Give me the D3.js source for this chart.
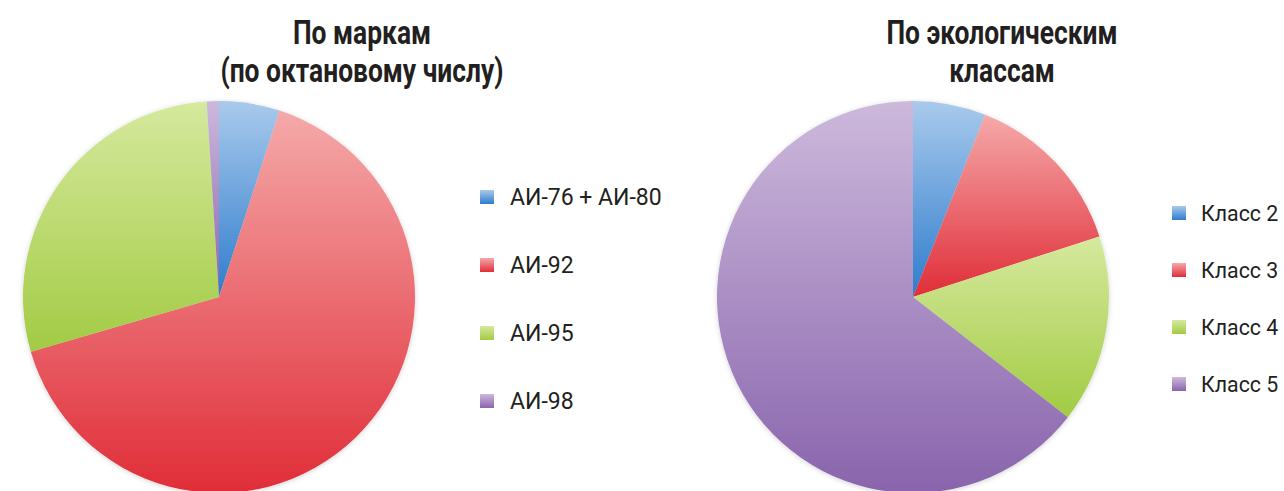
<!DOCTYPE html>
<html lang="ru">
<head>
<meta charset="utf-8">
<script src="https://cdn.jsdelivr.net/npm/d3@7"></script>
<style>
  html, body { margin: 0; padding: 0; background: #ffffff; }
  svg { display: block; }
  .title { font-family: Roboto, "Noto Sans", sans-serif; font-weight: bold; fill: #231f20; }
  .legend text { font-family: Roboto, "Noto Sans", sans-serif; fill: #231f20; }
</style>
</head>
<body>
<svg id="chart" width="1284" height="491"></svg>
<script>
// Gasoline production structure: two pies
const gradeCategories = ["АИ-76 + АИ-80", "АИ-92", "АИ-95", "АИ-98"];
const gradeValues = [5, 65.5, 28.5, 1];
const gradeTitle = ["По маркам", "(по октановому числу)"];

const classCategories = ["Класс 2", "Класс 3", "Класс 4", "Класс 5"];
const classValues = [6, 14, 15.5, 64.5];
const classTitle = ["По экологическим", "классам"];

// light (top) and saturated (bottom) tone for each slice colour
const paletteLight = ["#a9caec", "#f5a9a9", "#d6e99e", "#cdb9dc"];
const paletteDark  = ["#2e7ccd", "#e02d38", "#a2cb44", "#8964ad"];

// condensed look: horizontal squeeze applied to titles
const TITLE_SQUEEZE = 0.8;

const svg = d3.select("#chart");
const defs = svg.append("defs");

paletteLight.forEach((c, i) => {
  const g = defs.append("linearGradient")
    .attr("id", "grad" + i)
    .attr("x1", 0).attr("y1", 0).attr("x2", 0).attr("y2", 1);
  g.append("stop").attr("offset", "0%").attr("stop-color", c);
  g.append("stop").attr("offset", "100%").attr("stop-color", paletteDark[i]);
});

const shadow = defs.append("filter").attr("id", "pieShadow")
  .attr("x", "-10%").attr("y", "-10%").attr("width", "120%").attr("height", "120%");
shadow.append("feDropShadow")
  .attr("dx", 0).attr("dy", 1).attr("stdDeviation", 2.5)
  .attr("flood-color", "#000").attr("flood-opacity", 0.18);

function drawPie(cfg) {
  const g = svg.append("g");

  // title, centred at titleX and squeezed horizontally
  const t = g.append("g")
    .attr("transform", `translate(${cfg.titleX},0) scale(${TITLE_SQUEEZE},1)`)
    .append("text").attr("class", "title")
    .attr("text-anchor", "middle")
    .style("font-size", cfg.titleSize + "px");
  cfg.title.forEach((line, i) => {
    t.append("tspan").attr("x", 0).attr("y", cfg.titleY + i * cfg.titleGap).text(line);
  });

  // slices, clockwise from 12 o'clock in series order
  const pie = d3.pie().sort(null).value(d => d)(cfg.values);
  const arc = d3.arc().innerRadius(0).outerRadius(cfg.r);
  g.append("g")
    .attr("transform", `translate(${cfg.cx},${cfg.cy})`)
    .attr("filter", "url(#pieShadow)")
    .selectAll("path")
    .data(pie)
    .join("path")
    .attr("d", arc)
    .attr("fill", (d, i) => `url(#grad${i})`);

  // legend
  const y = d3.scalePoint().domain(cfg.categories).range([cfg.legY0, cfg.legY1]);
  const items = g.append("g").attr("class", "legend")
    .selectAll("g")
    .data(cfg.categories)
    .join("g")
    .attr("transform", d => `translate(${cfg.legX},${y(d)})`);
  items.append("rect")
    .attr("x", 0).attr("y", -cfg.sw / 2)
    .attr("width", cfg.sw).attr("height", cfg.sw)
    .attr("fill", (d, i) => `url(#grad${i})`);
  items.append("g")
    .attr("transform", `translate(${cfg.textDx},0) scale(${cfg.legSqueeze},1)`)
    .append("text")
    .attr("x", 0).attr("y", 0)
    .attr("dy", "0.36em")
    .style("font-size", cfg.legSize + "px")
    .text(d => d);
}

drawPie({
  title: gradeTitle, titleX: 362, titleY: 44, titleGap: 38, titleSize: 33,
  values: gradeValues, categories: gradeCategories,
  cx: 219, cy: 297, r: 196,
  legX: 480, legY0: 197, legY1: 401, sw: 14, textDx: 30, legSize: 23, legSqueeze: 1.0
});

drawPie({
  title: classTitle, titleX: 1002, titleY: 44, titleGap: 38, titleSize: 33,
  values: classValues, categories: classCategories,
  cx: 913, cy: 297, r: 196,
  legX: 1172, legY0: 213, legY1: 384, sw: 14, textDx: 29, legSize: 22, legSqueeze: 0.97
});
</script>
</body>
</html>
